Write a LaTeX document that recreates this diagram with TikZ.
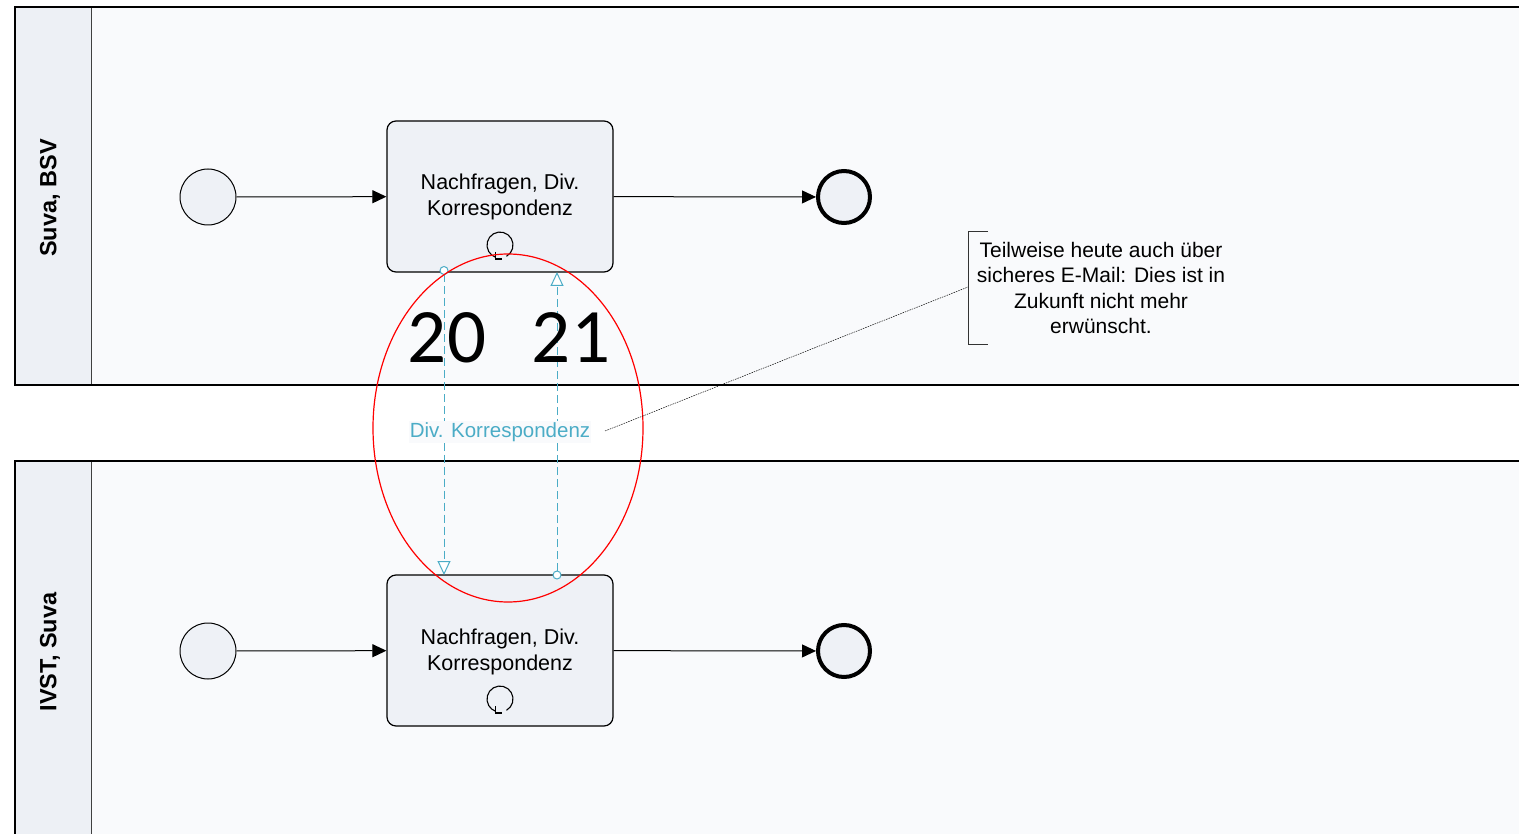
\documentclass[tikz,border=0pt]{standalone}
\usepackage{fontspec}
\setmainfont{Liberation Sans}
\newfontfamily\numfont{Carlito}
\usetikzlibrary{arrows.meta,shapes.geometric}
\definecolor{poolfill}{HTML}{F9FAFC}
\definecolor{headfill}{HTML}{EDF0F5}
\definecolor{taskfill}{HTML}{EEF1F6}
\definecolor{msgcol}{HTML}{4BACC6}
\tikzset{
  pool/.style={draw=black, line width=1.2pt, fill=poolfill},
  header/.style={draw=black!75, line width=1pt, fill=headfill},
  task/.style={draw=black, line width=1.2pt, fill=taskfill, rounded corners=9pt, minimum width=226pt, minimum height=151pt, inner sep=0pt},
  tasktext/.style={align=center, font=\fontsize{21.5}{26}\selectfont, inner sep=0pt},
  startev/.style={circle, draw=black, line width=1pt, fill=taskfill, minimum size=56pt, inner sep=0pt},
  endev/.style={circle, draw=black, line width=4pt, fill=taskfill, minimum size=52pt, inner sep=0pt},
  seqflow/.style={draw=black, line width=1pt, -{Triangle[length=14pt,width=13pt]}},
  msgflow/.style={draw=msgcol, line width=1pt, dash pattern=on 8pt off 4pt, {Circle[open,length=9pt,width=9pt,fill=white]}-{Triangle[open,length=14pt,width=13pt,fill=white]}},
  lanelabel/.style={rotate=90, font=\bfseries\fontsize{23.5}{28}\selectfont},
  bignum/.style={font=\numfont\fontsize{77}{80}\selectfont, inner sep=0pt},
  loopmark/.style={draw=black, line width=1.1pt},
}
\begin{document}
\begin{tikzpicture}[x=1pt,y=-1pt]
\useasboundingbox (0,0) rectangle (1519,834);
% pools
\path[pool] (15,7) rectangle (1530,385);
\path[header] (15,7) rectangle (91,385);
\path[pool] (15,461) rectangle (1530,845);
\path[header] (15,461) rectangle (91,845);
\draw[black, line width=1.2pt] (15,7) rectangle (1530,385);
\draw[black, line width=1.2pt] (15,461) rectangle (1530,845);
\node[lanelabel] (l1) at (50,198) {Suva, BSV};
\node[lanelabel] (l2) at (50,652) {IVST, Suva};
% upper
\node[startev] (s1) at (208,197) {};
\node[task] (t1) at (500,196.5) {};
\node[tasktext] (t1txt) at (500,197) {Nachfragen, Div.\\Korrespondenz};
\node[endev] (e1) at (844,197) {};
\draw[seqflow] (s1) -- (t1);
\draw[seqflow] (t1) -- (e1);
% lower
\node[startev] (s2) at (208,651) {};
\node[task] (t2) at (500,650.5) {};
\node[tasktext] (t2txt) at (500,652) {Nachfragen, Div.\\Korrespondenz};
\node[endev] (e2) at (844,651) {};
\draw[seqflow] (s2) -- (t2);
\draw[seqflow] (t2) -- (e2);
% loop markers
\foreach \yy in {245,699}{
  \draw[loopmark] (506.5,\yy+11.3) arc[start angle=60, end angle=-250, radius=13];
  \draw[loopmark] (495.5,\yy+7) -- (495.5,\yy+14) -- (502,\yy+14);
}
% message flows
\coordinate (m1a) at (444,266);
\coordinate (m1b) at (444,575);
\coordinate (m2a) at (557,579.5);
\coordinate (m2b) at (557,272);
\draw[msgflow] (m1a) -- (m1b);
\draw[msgflow] (m2a) -- (m2b);
\node[text=msgcol, fill=poolfill, inner sep=1pt, font=\fontsize{20.5}{24}\selectfont] (lbl) at (500,432) {Div. Korrespondenz};
% numbers
\node[bignum] (n20) at (447,338) {20};
\node[bignum] (n21) at (571,338) {21};
% red ellipse
\draw[red, line width=1.2pt] (508,428) ellipse[x radius=135, y radius=174];
% annotation
\coordinate (brk) at (968,287);
\coordinate (lblend) at (605,431);
\draw[black!80, line width=0.6pt] (988,231) -- (968,231) -- (968,344) -- (988,344);
\node[align=center, font=\fontsize{21}{25.5}\selectfont] (ann) at (1101,288) {Teilweise heute auch über\\sicheres E-Mail: Dies ist in\\Zukunft nicht mehr\\erwünscht.};
\draw[black, line width=0.5pt, dash pattern=on 1.5pt off 1pt] (lblend) -- (brk);
\end{tikzpicture}
\end{document}
